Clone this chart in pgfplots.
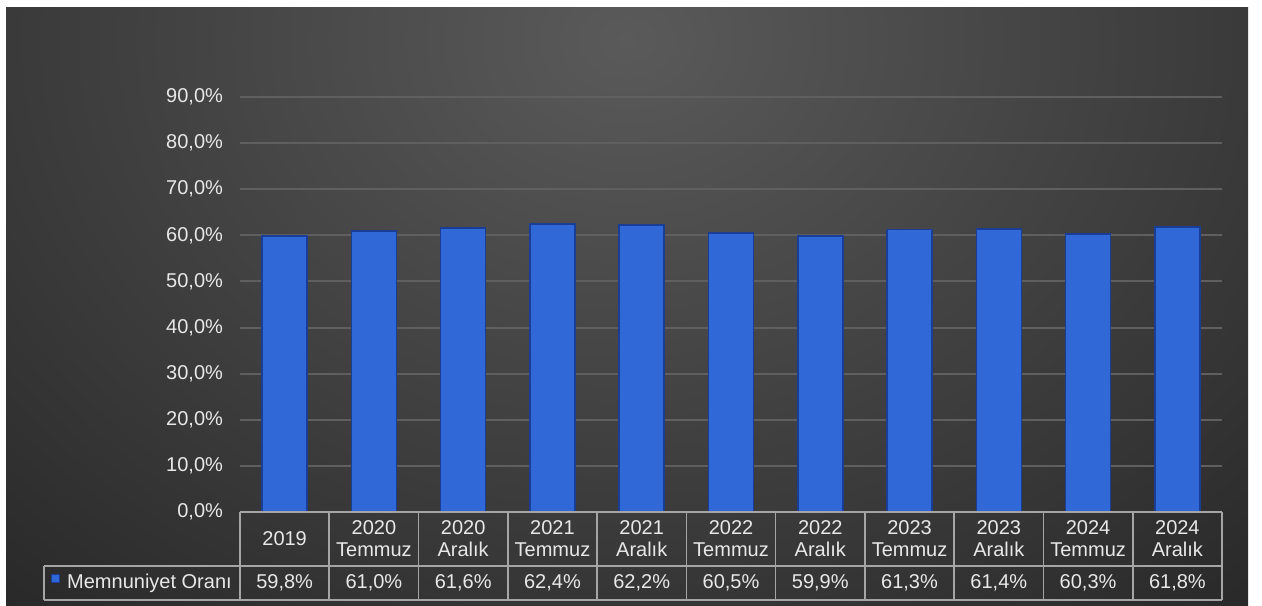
\documentclass[border=0pt]{standalone}
\usepackage{fontspec}
\setmainfont{Liberation Sans}
\usepackage{pgfplots}
\pgfplotsset{compat=1.18}
\definecolor{barblue}{RGB}{48,104,216}
\definecolor{bardark}{RGB}{26,62,150}
\definecolor{gridc}{RGB}{95,95,95}
\definecolor{tabline}{RGB}{165,165,165}
\definecolor{txt}{RGB}{232,232,232}
\definecolor{bgin}{RGB}{90,90,90}
\definecolor{bgout}{RGB}{38,38,38}
\begin{document}
\begin{tikzpicture}
\begin{scope}[x=0.5pt,y=-0.5pt]
\path[fill=white] (0,0) rectangle (1262,605);
\begin{scope}
\clip (6,7) rectangle (1248,605);
\fill[bgout] (6,7) rectangle (1248,605);
\shade[inner color=bgin, outer color=bgout] (627,40) ellipse [x radius=1000, y radius=800];
\end{scope}
\end{scope}
\begin{axis}[
  at={(120pt,-256pt)}, anchor=south west,
  width=491pt, height=207.5pt, scale only axis,
  xmin=-0.5, xmax=10.5, ymin=0, ymax=90,
  clip=false,
  axis line style={draw=none},
  major tick length=0pt,
  ytick={0,10,...,90},
  yticklabel={\pgfmathprintnumber[fixed,fixed zerofill,precision=1,use comma,assume math mode=true]{\tick}\%},
  yticklabel style={text=txt, font=\fontsize{10}{12}\selectfont, xshift=-5pt},
  ymajorgrids, grid style={gridc, line width=1pt},
  xtick=data,
  xticklabels={2019,{2020\\Temmuz},{2020\\Aralık},{2021\\Temmuz},{2021\\Aralık},{2022\\Temmuz},{2022\\Aralık},{2023\\Temmuz},{2023\\Aralık},{2024\\Temmuz},{2024\\Aralık}},
  xticklabel style={text=txt, align=center, font=\fontsize{10}{11}\selectfont, anchor=center, yshift=-13.5pt},
]
\addplot[ybar, bar width=22.5pt, fill=barblue, draw=bardark, line width=0.8pt] table {
x y
0 59.8
1 61.0
2 61.6
3 62.4
4 62.2
5 60.5
6 59.9
7 61.3
8 61.4
9 60.3
10 61.8
};
\addplot[draw=none, point meta=explicit,
  nodes near coords={\pgfmathprintnumber[fixed,fixed zerofill,precision=1,use comma,assume math mode=true]{\pgfplotspointmeta}\%},
  nodes near coords style={text=txt, anchor=center, font=\fontsize{10}{12}\selectfont}]
  table[meta=v] {
x y v
0 -15.4 59.8
1 -15.4 61.0
2 -15.4 61.6
3 -15.4 62.4
4 -15.4 62.2
5 -15.4 60.5
6 -15.4 59.9
7 -15.4 61.3
8 -15.4 61.4
9 -15.4 60.3
10 -15.4 61.8
};
\draw[tabline, line width=0.8pt] (axis cs:-0.5,0) -- (axis cs:10.5,0);
\draw[tabline, line width=0.8pt] (axis cs:-2.696,-11.71) -- (axis cs:10.5,-11.71);
\draw[tabline, line width=0.8pt] (axis cs:-2.696,-19.09) -- (axis cs:10.5,-19.09);
\draw[tabline, line width=0.8pt] (axis cs:-2.696,-11.71) -- (axis cs:-2.696,-19.09);
\pgfplotsinvokeforeach{-0.5,0.5,1.5,2.5,3.5,4.5,5.5,6.5,7.5,8.5,9.5,10.5}{
  \draw[tabline, line width=0.8pt] (axis cs:#1,0) -- (axis cs:#1,-19.09);
}
\fill[barblue, draw=bardark, line width=0.3pt] (axis cs:-2.572,-14.3) ++(-2pt,-2pt) rectangle ++(4pt,4pt);
\node[text=txt, anchor=center, font=\fontsize{10}{12}\selectfont] at (axis cs:-1.514,-15.4) {Memnuniyet Oranı};
\end{axis}
\end{tikzpicture}
\end{document}
